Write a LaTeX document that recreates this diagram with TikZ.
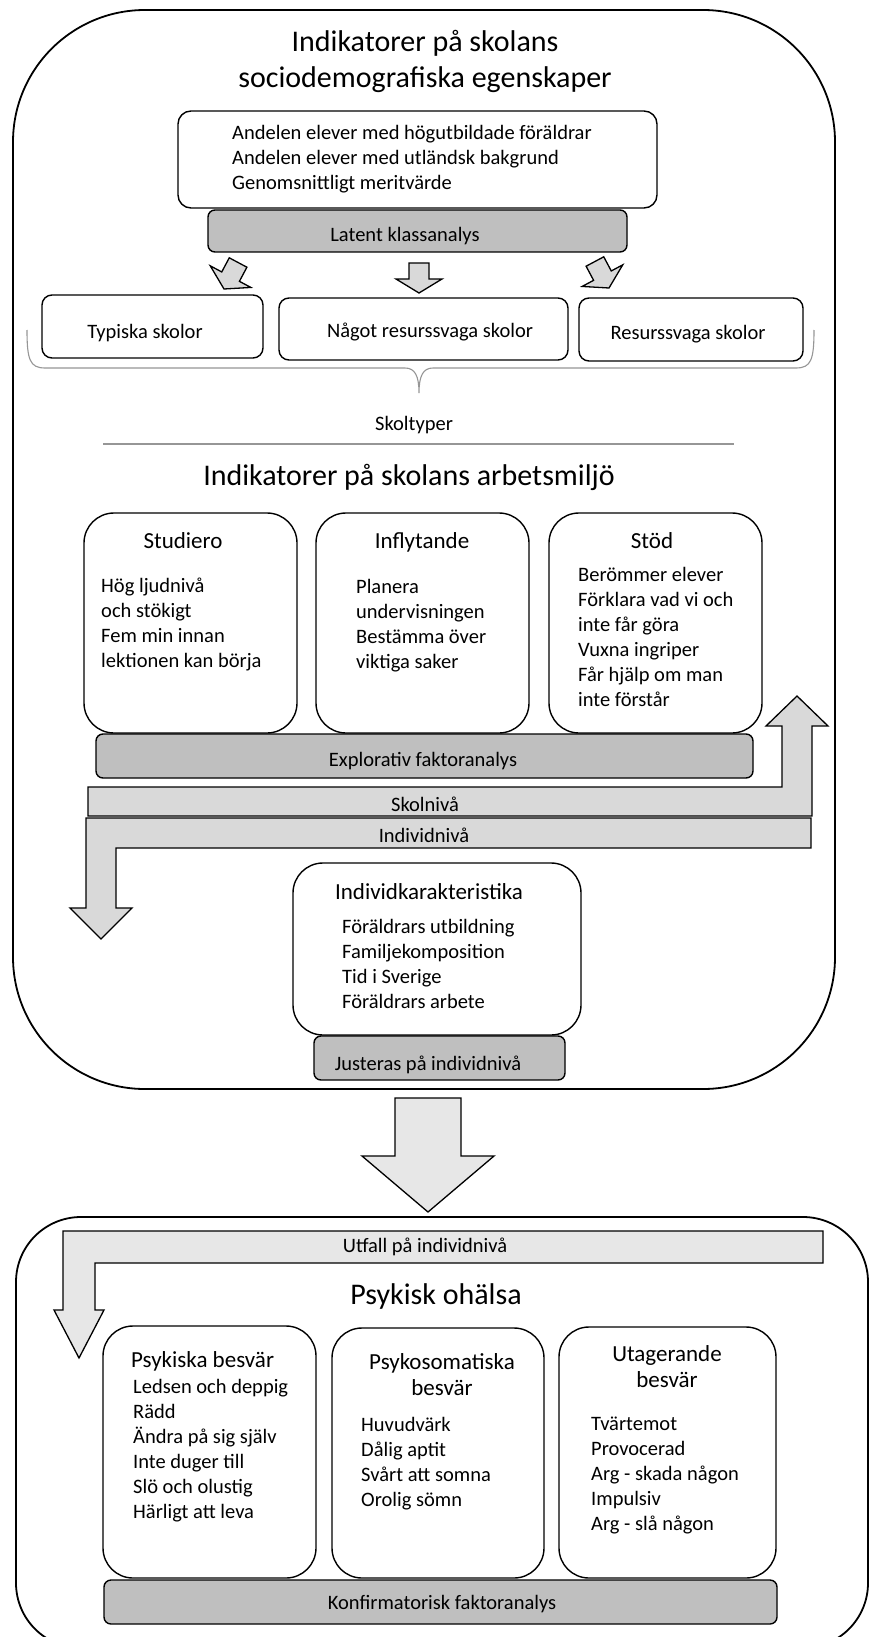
\documentclass[tikz,border=0pt]{standalone}
\usepackage{fontspec}
\setmainfont{Carlito}
\usetikzlibrary{fit}
\definecolor{boxgray}{RGB}{191,191,191}
\definecolor{bandgray}{RGB}{217,217,217}
\definecolor{lightband}{RGB}{231,231,231}
\definecolor{linegray}{RGB}{150,150,150}
\newcommand{\ltab}[1]{\begin{tabular}[t]{@{}l@{}}#1\end{tabular}}
\newcommand{\ctab}[1]{\begin{tabular}[t]{@{}c@{}}#1\end{tabular}}
\newcommand{\smallarrow}[3]{%
  \begin{scope}[shift={(#1,#2)}, rotate=#3]
    \draw[barrow] (-10,-30) -- (10,-30) -- (10,-14) -- (23,-14) -- (0,0) -- (-23,-14) -- (-10,-14) -- cycle;
  \end{scope}}
\tikzset{
  outerbox/.style={draw=black, line width=1.8pt, inner sep=0pt, rounded corners=#1},
  wbox/.style={draw=black, line width=1.4pt, fill=white, inner sep=0pt, rounded corners=#1},
  gbox/.style={draw=black, line width=1.4pt, fill=boxgray, inner sep=0pt, rounded corners=7pt},
  barrow/.style={draw=black, line width=1.3pt, fill=bandgray, line join=miter},
  larrow/.style={draw=black, line width=1.3pt, fill=lightband, line join=miter},
  body/.style={inner sep=0pt, font=\fontsize{20.5}{25}\selectfont},
  ttl/.style={inner sep=0pt, font=\fontsize{23}{26.5}\selectfont},
  head/.style={inner sep=0pt, font=\fontsize{30}{36}\selectfont},
}
\begin{document}
\begin{tikzpicture}[x=1pt, y=-1pt]
\useasboundingbox (0,0) rectangle (869,1637);
\fill[white] (0,0) rectangle (869,1637);

% ---------- top outer box ----------
\node[outerbox=132pt, fit={(13,10) (835,1089)}] (outerTop) {};
\node[head, anchor=base] (titleA) at (425,52) {Indikatorer på skolans};
\node[head, anchor=base] (titleB) at (425,88) {sociodemografiska egenskaper};

\node[wbox=13pt, fit={(178,111) (657,208)}] (socbox) {};
\node[body, anchor=base west] (soctext) at (232,140) {\ltab{Andelen elever med högutbildade föräldrar\\Andelen elever med utländsk bakgrund\\Genomsnittligt meritvärde}};
\node[gbox, fit={(208,210) (627,252)}] (latent) {};
\node[body, anchor=base] (latentT) at (405,242) {Latent klassanalys};

\smallarrow{224}{289}{-28}
\smallarrow{419}{293}{0}
\smallarrow{609}{288}{28}

\node[wbox=10pt, fit={(42,295) (263,358)}] (typ) {};
\node[body, anchor=base] (typT) at (145,338) {Typiska skolor};
\node[wbox=10pt, fit={(279,298) (568,360)}] (nagot) {};
\node[body, anchor=base] (nagotT) at (430,337) {Något resurssvaga skolor};
\node[wbox=10pt, fit={(579,298) (803,361)}] (res) {};
\node[body, anchor=base] (resT) at (688,339) {Resurssvaga skolor};

% brace
\draw[linegray, line width=1.1pt] (27,330) .. controls (27,360) and (30,368) .. (45,368) -- (405,368)
  .. controls (415,368) and (419,376) .. (419,393)
  .. controls (419,376) and (423,368) .. (433,368) -- (796,368)
  .. controls (811,368) and (814,360) .. (814,330);
\node[body, anchor=base] (skoltyper) at (414,430) {Skoltyper};
\draw[linegray, line width=1.3pt] (103,444) -- (734,444);

\node[head, anchor=base] (titleC) at (409,485) {Indikatorer på skolans arbetsmiljö};

\node[wbox=30pt, fit={(84,513) (297,733)}] (studiero) {};
\node[wbox=30pt, fit={(316,513) (529,733)}] (inflyt) {};
\node[wbox=30pt, fit={(549,513) (762,733)}] (stod) {};
\node[ttl, anchor=base] (studieroT) at (183,548) {Studiero};
\node[ttl, anchor=base] (inflytT) at (422,548) {Inflytande};
\node[ttl, anchor=base] (stodT) at (652,548) {Stöd};
\node[body, anchor=base west] (studieroL) at (101,592) {\ltab{Hög ljudnivå\\och stökigt\\Fem min innan\\lektionen kan börja}};
\node[body, anchor=base west] (inflytL) at (356,593) {\ltab{Planera\\undervisningen\\Bestämma över\\viktiga saker}};
\node[body, anchor=base west] (stodL) at (578,581) {\ltab{Berömmer elever\\Förklara vad vi och\\inte får göra\\Vuxna ingriper\\Får hjälp om man\\inte förstår}};

\node[gbox, fit={(96,734) (753,778)}] (explor) {};
\node[body, anchor=base] (explorT) at (423,766) {Explorativ faktoranalys};

% Skolnivå bent arrow (up)
\draw[barrow] (88,787) -- (782,787) -- (782,726) -- (766,726) -- (797,696) -- (828,726) -- (812,726) -- (812,816) -- (88,816) -- cycle;
\node[body, anchor=base] (skolniva) at (425,811) {Skolnivå};
% Individnivå bent arrow (down)
\draw[barrow] (86,818) -- (811,818) -- (811,848) -- (116,848) -- (116,908) -- (132,908) -- (101,939) -- (70,908) -- (86,908) -- cycle;
\node[body, anchor=base] (individniva) at (424,842) {Individnivå};

\node[wbox=30pt, fit={(293,863) (581,1035)}] (indiv) {};
\node[ttl, anchor=base] (indivT) at (429,899) {Individkarakteristika};
\node[body, anchor=base west] (indivL) at (342,933) {\ltab{Föräldrars utbildning\\Familjekomposition\\Tid i Sverige\\Föräldrars arbete}};
\node[gbox, fit={(314,1036) (565,1080)}] (just) {};
\node[body, anchor=base] (justT) at (428,1070) {Justeras på individnivå};

% big arrow
\draw[larrow] (395,1098) -- (461,1098) -- (461,1156) -- (494,1156) -- (428,1212) -- (362,1156) -- (395,1156) -- cycle;

% ---------- bottom outer box ----------
\node[outerbox=65pt, fit={(16,1217) (868,1648)}] (outerBot) {};
\draw[larrow] (63,1231) -- (823,1231) -- (823,1263) -- (95,1263) -- (95,1310) -- (104,1310) -- (79,1358) -- (54,1310) -- (63,1310) -- cycle;
\node[body, anchor=base] (utfall) at (425,1252) {Utfall på individnivå};
\node[head, anchor=base] (titleD) at (436,1304) {Psykisk ohälsa};

\node[wbox=30pt, fit={(103,1326) (316,1578)}] (psyk) {};
\node[wbox=30pt, fit={(332,1328) (544,1578)}] (psyso) {};
\node[wbox=30pt, fit={(559,1327) (776,1578)}] (utag) {};
\node[ttl, anchor=base west] (psykT) at (131,1367) {Psykiska besvär};
\node[body, anchor=base west] (psykL) at (133,1393) {\ltab{Ledsen och deppig\\Rädd\\Ändra på sig själv\\Inte duger till\\Slö och olustig\\Härligt att leva}};
\node[ttl, anchor=base] (psysoT) at (442,1369) {\ctab{Psykosomatiska\\besvär}};
\node[body, anchor=base west] (psysoL) at (361,1431) {\ltab{Huvudvärk\\Dålig aptit\\Svårt att somna\\Orolig sömn}};
\node[ttl, anchor=base] (utagT) at (667,1361) {\ctab{Utagerande\\besvär}};
\node[body, anchor=base west] (utagL) at (591,1430) {\ltab{Tvärtemot\\Provocerad\\Arg - skada någon\\Impulsiv\\Arg - slå någon}};

\node[gbox, fit={(104,1580) (777,1624)}] (konf) {};
\node[body, anchor=base] (konfT) at (442,1609) {Konfirmatorisk faktoranalys};
\end{tikzpicture}
\end{document}
